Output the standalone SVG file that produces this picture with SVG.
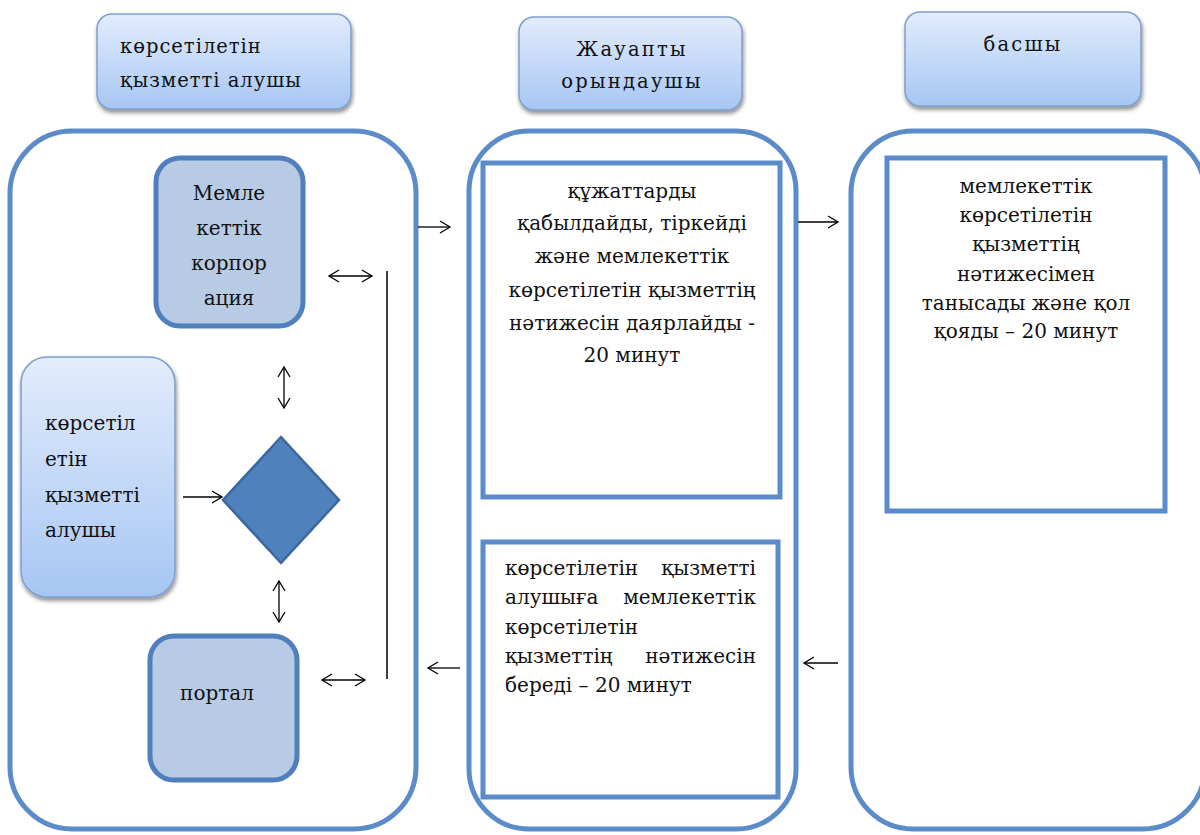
<svg xmlns="http://www.w3.org/2000/svg" width="1200" height="835" viewBox="0 0 1200 835">
<style>
  .lane { fill: #ffffff; stroke: #5b8bc9; stroke-width: 5; }
  .inner { fill: #ffffff; stroke: #5b8bc9; stroke-width: 5; }
  .hdr { fill: url(#hdrGrad); stroke: #7f9fcb; stroke-width: 1.5; filter: url(#shadow); }
  .steel { fill: #b7cbe4; stroke: #4f7fbd; stroke-width: 5; }
  .t { font-family: 'DejaVu Serif', 'Liberation Serif', serif; font-size: 20px; fill: #111111; }
  .h { font-family: 'DejaVu Serif', 'Liberation Serif', serif; font-size: 19.5px; fill: #111111; letter-spacing: 1px; }
  .hw { letter-spacing: 2.2px; }
  .mid { text-anchor: middle; }
  .end { text-anchor: end; }
  .arr { stroke: #000000; stroke-width: 1.3; fill: none; }
</style>
<defs>
  <linearGradient id="hdrGrad" x1="0" y1="0" x2="0" y2="1">
    <stop offset="0" stop-color="#e2ecfc"/>
    <stop offset="1" stop-color="#a7c6f3"/>
  </linearGradient>
  <filter id="shadow" x="-10%" y="-10%" width="125%" height="130%">
    <feGaussianBlur in="SourceAlpha" stdDeviation="2"/>
    <feOffset dx="1" dy="3" result="o"/>
    <feComponentTransfer><feFuncA type="linear" slope="0.45"/></feComponentTransfer>
    <feMerge><feMergeNode/><feMergeNode in="SourceGraphic"/></feMerge>
  </filter>
  <marker id="head" markerUnits="userSpaceOnUse" markerWidth="14" markerHeight="16" refX="11" refY="7" orient="auto-start-reverse" viewBox="0 0 14 14">
    <path d="M1,1 L11,7 L1,13" fill="none" stroke="#000000" stroke-width="1.3"/>
  </marker>
</defs>

<!-- lanes -->
<g id="lane-left"><rect class="lane" x="10" y="131" width="406" height="698" rx="62"/></g>
<g id="lane-middle"><rect class="lane" x="469" y="131" width="327" height="698" rx="60"/></g>
<g id="lane-right"><rect class="lane" x="851" y="131" width="354" height="698" rx="62"/></g>

<!-- headers -->
<g id="hdr-recipient">
  <rect class="hdr" x="97" y="14" width="254" height="95" rx="15"/>
  <text class="h" x="120" y="53">көрсетілетін</text>
  <text class="h" x="120" y="87">қызметті алушы</text>
</g>
<g id="hdr-executor">
  <rect class="hdr" x="519" y="17" width="223" height="93" rx="15"/>
  <text class="h hw mid" x="632" y="56">Жауапты</text>
  <text class="h hw mid" x="632" y="88">орындаушы</text>
</g>
<g id="hdr-head">
  <rect class="hdr" x="905" y="12" width="236" height="94" rx="15"/>
  <text class="h hw mid" x="1023" y="51">басшы</text>
</g>

<!-- left lane nodes -->
<g id="node-corp">
  <rect class="steel" x="156" y="158" width="147" height="168" rx="24"/>
  <text class="t mid" x="229" y="200">Мемле</text>
  <text class="t mid" x="229" y="235">кеттік</text>
  <text class="t mid" x="229" y="270">корпор</text>
  <text class="t mid" x="229" y="305">ация</text>
</g>
<g id="node-recipient">
  <rect class="hdr" x="21" y="357" width="154" height="240" rx="26"/>
  <text class="t" x="45" y="430">көрсетіл</text>
  <text class="t" x="45" y="466">етін</text>
  <text class="t" x="45" y="502">қызметті</text>
  <text class="t" x="45" y="537">алушы</text>
</g>
<g id="node-decision">
  <polygon points="281,437 339,500 281,563 223,500" fill="#4f81bd" stroke="#3b679f" stroke-width="2.5"/>
</g>
<g id="node-portal">
  <rect class="steel" x="150" y="636" width="147" height="144" rx="24"/>
  <text class="t mid" x="217" y="700">портал</text>
</g>

<!-- middle lane nodes -->
<g id="node-accept">
  <rect class="inner" x="483" y="163" width="297" height="334"/>
  <text class="t mid" x="632" y="198">құжаттарды</text>
  <text class="t mid" x="632" y="230">қабылдайды, тіркейді</text>
  <text class="t mid" x="632" y="263">және мемлекеттік</text>
  <text class="t mid" x="632" y="297">көрсетілетін қызметтің</text>
  <text class="t mid" x="632" y="330">нәтижесін даярлайды -</text>
  <text class="t mid" x="632" y="362">20 минут</text>
</g>
<g id="node-issue">
  <rect class="inner" x="483" y="542" width="295" height="255"/>
  <text class="t" x="505" y="575">көрсетілетін</text>
  <text class="t end" x="756" y="575">қызметті</text>
  <text class="t" x="505" y="604">алушыға</text>
  <text class="t end" x="756" y="604">мемлекеттік</text>
  <text class="t" x="505" y="634">көрсетілетін</text>
  <text class="t" x="505" y="663">қызметтің</text>
  <text class="t end" x="756" y="663">нәтижесін</text>
  <text class="t" x="505" y="692">береді – 20 минут</text>
</g>

<!-- right lane node -->
<g id="node-sign">
  <rect class="inner" x="887" y="158" width="278" height="353"/>
  <text class="t mid" x="1026" y="193">мемлекеттік</text>
  <text class="t mid" x="1026" y="222">көрсетілетін</text>
  <text class="t mid" x="1026" y="251">қызметтің</text>
  <text class="t mid" x="1026" y="281">нәтижесімен</text>
  <text class="t mid" x="1026" y="310">танысады және қол</text>
  <text class="t mid" x="1026" y="338">қояды – 20 минут</text>
</g>

<!-- connectors -->
<g id="connectors">
  <line class="arr" x1="183" y1="497" x2="222" y2="497" marker-end="url(#head)"/>
  <line class="arr" x1="284" y1="367" x2="284" y2="408" marker-start="url(#head)" marker-end="url(#head)"/>
  <line class="arr" x1="279" y1="581" x2="279" y2="622" marker-start="url(#head)" marker-end="url(#head)"/>
  <line class="arr" x1="329" y1="276" x2="372" y2="276" marker-start="url(#head)" marker-end="url(#head)"/>
  <line class="arr" x1="322" y1="680" x2="365" y2="680" marker-start="url(#head)" marker-end="url(#head)"/>
  <line x1="387" y1="271" x2="387" y2="679" stroke="#000000" stroke-width="1.5"/>
  <line class="arr" x1="418" y1="227" x2="450" y2="227" marker-end="url(#head)"/>
  <line class="arr" x1="798" y1="222" x2="838" y2="222" marker-end="url(#head)"/>
  <line class="arr" x1="460" y1="668" x2="428" y2="668" marker-end="url(#head)"/>
  <line class="arr" x1="838" y1="663" x2="804" y2="663" marker-end="url(#head)"/>
</g>
</svg>
